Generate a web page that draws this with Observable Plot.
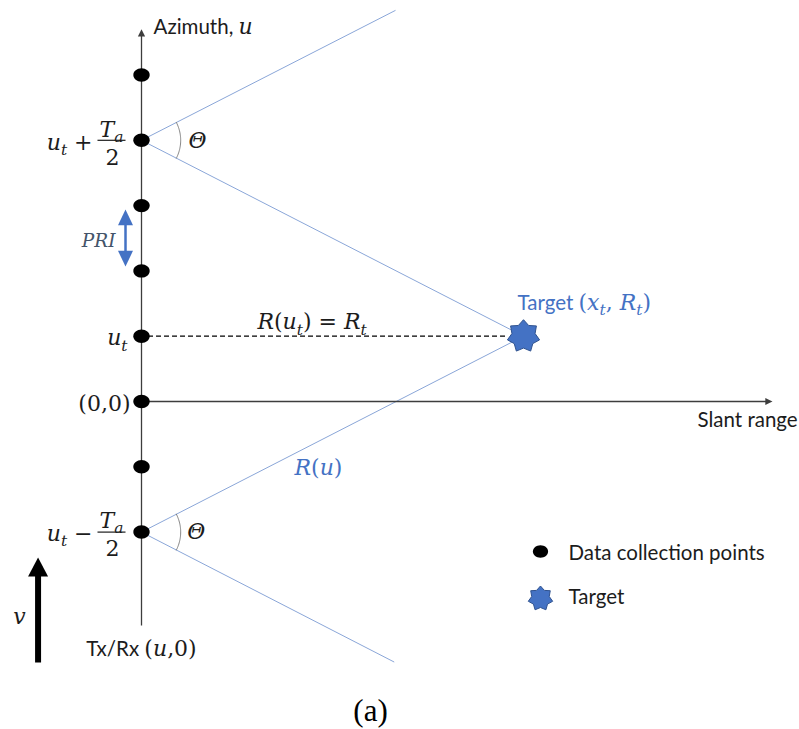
<!DOCTYPE html>
<html>
<head>
<meta charset="utf-8">
<script src="https://cdn.jsdelivr.net/npm/d3@7"></script>
<script src="https://cdn.jsdelivr.net/npm/@observablehq/plot@0.6"></script>
<style>
  html, body { margin: 0; padding: 0; background: #fff; }
  #fig svg text { white-space: pre; }
</style>
</head>
<body>
<div id="fig"></div>
<script>
// Geometry of a stripmap SAR collection, in units of one PRI along azimuth
// (slant range uses the same unit so angles are drawn true).
const collectionPoints = [-2, -1, 0, 1, 2, 3, 4, 5];   // azimuth u of each pulse
const uT = 1;              // target azimuth u_t
const halfAperture = 3;    // T_a / 2
const xT = 5.85;           // target slant range
const apertureEnds = [uT + halfAperture, uT - halfAperture];

// beam edges leaving each end of the synthetic aperture
const beamEdges = [
  {x1: 0, u1: 4,  x2: 3.89, u2: 5.99},
  {x1: 0, u1: 4,  x2: xT,   u2: uT},
  {x1: 0, u1: -2, x2: xT,   u2: uT},
  {x1: 0, u1: -2, x2: 3.87, u2: -3.99}
];
const azimuthAxis = {x: 0, from: -3.43, to: 5.70};
const rangeAxis = {u: 0, from: 0, to: 9.663};
const rangeLine = {x1: 0.1, x2: 5.6, u: uT};
const fractionBars = [{x1: -0.674, x2: -0.245, u: 4}, {x1: -0.674, x2: -0.245, u: -2}];
const priArrow = {x: -0.245, top: 2.94, bottom: 2.067};
const velocityArrow = {x: -1.584, tail: -3.997, tip: -2.389};
const legendItems = [
  {key: "points", x: 6.11, u: -2.297, label: "Data collection points", lx: 6.539, lu: -2.328},
  {key: "target", x: 6.11, u: -3.017, label: "Target", lx: 6.539, lu: -2.997}
];
const arcRadius = 0.6;

// text labels, grouped by typeface and colour
const mathLabels = [
  {text: "$u_t +$", x: -0.75, u: 3.962, anchor: "end"},
  {text: "$T_a$", x: -0.46, u: 4.161, anchor: "middle"},
  {text: "$2$", x: -0.445, u: 3.732, anchor: "middle"},
  {text: "$u_t −$", x: -0.75, u: -2.026, anchor: "end"},
  {text: "$T_a$", x: -0.46, u: -1.827, anchor: "middle"},
  {text: "$2$", x: -0.445, u: -2.256, anchor: "middle"},
  {text: "$Θ$", x: 0.72, u: 3.99, anchor: "start"},
  {text: "$Θ$", x: 0.70, u: -2.0, anchor: "start"},
  {text: "$u_t$", x: -0.214, u: 0.966, anchor: "end"},
  {text: "$(0,0)$", x: -0.168, u: -0.03, anchor: "end"},
  {text: "$R(u_t) = R_t$", x: 2.612, u: 1.211, anchor: "middle"},
  {text: "$v$", x: -1.868, u: -3.292, anchor: "middle"}
];
const mathBlueLabels = [
  {text: "$R(u)$", x: 2.343, u: -1.011, anchor: "start"}
];
const priLabels = [
  {text: "$PRI$", x: -0.398, u: 2.461, anchor: "end"}
];
const sansLabels = [
  {text: "Azimuth, $u$", x: 0.184, u: 5.727, anchor: "start"},
  {text: "Slant range", x: 8.515, u: -0.291, anchor: "start"},
  {text: "Tx/Rx $(u,0)$", x: 0, u: -3.798, anchor: "middle"}
];
const sansBlueLabels = [
  {text: "Target $(x_t, R_t)$", x: 5.758, u: 1.502, anchor: "start"}
];
const captionLabels = [{text: "(a)", x: 3.507, u: -4.737}];

const ink = "#1c1c1c";
const axisInk = "#3d3d3d";
const blue = "#4472c4";
const beamBlue = "#8aa6d8";
const slate = "#44546a";
const mathFont = "DejaVu Serif";
const sansFont = "Lato";
const mathSize = 22;
const sansSize = 20.5;

// custom symbols
const arrowHead = (dir, ratio) => ({
  draw(ctx, size) {
    const r = Math.sqrt(size / Math.PI), L = r * ratio;
    const rot = ([a, b]) => dir === "up" ? [a, b] : dir === "down" ? [a, -b] : [-b, a];
    const pts = [[0, 0], [-r, L], [r, L]].map(rot);
    ctx.moveTo(...pts[0]); ctx.lineTo(...pts[1]); ctx.lineTo(...pts[2]); ctx.closePath();
  }
});
const ellipse = {
  draw(ctx, size) {
    const rx = Math.sqrt(size / Math.PI), ry = rx * 0.82, k = 0.5523;
    ctx.moveTo(rx, 0);
    ctx.bezierCurveTo(rx, ry * k, rx * k, ry, 0, ry);
    ctx.bezierCurveTo(-rx * k, ry, -rx, ry * k, -rx, 0);
    ctx.bezierCurveTo(-rx, -ry * k, -rx * k, -ry, 0, -ry);
    ctx.bezierCurveTo(rx * k, -ry, rx, -ry * k, rx, 0);
    ctx.closePath();
  }
};
const star7 = {
  draw(ctx, size) {
    const R = Math.sqrt(size / Math.PI), r0 = R * 0.72;
    for (let i = 0; i < 14; i++) {
      const a = -Math.PI / 2 + i * Math.PI / 7, rr = i % 2 ? r0 : R;
      const p = [rr * Math.cos(a), rr * Math.sin(a)];
      i ? ctx.lineTo(...p) : ctx.moveTo(...p);
    }
    ctx.closePath();
  }
};

// angle arcs marking the beamwidth Θ at both aperture ends
const halfBeam = Math.atan2(halfAperture, xT);
const arcs = apertureEnds.flatMap((u0, k) =>
  d3.range(0, 41).map(i => {
    const a = -halfBeam + (2 * halfBeam * i) / 40;
    return {arc: k, x: arcRadius * Math.cos(a), u: u0 + arcRadius * Math.sin(a)};
  })
);

const byAnchor = (data, opts) => ["start", "middle", "end"].map(a =>
  Plot.text(data.filter(d => d.anchor === a), {x: "x", y: "u", text: "text", textAnchor: a, ...opts})
);

const plot = Plot.plot({
  width: 799,
  height: 729,
  margin: 0,
  style: {background: "#fff"},
  x: {domain: [-2.1593, 10.0766], axis: null},
  y: {domain: [-5.023, 6.1409], axis: null},
  marks: [
    Plot.link(beamEdges, {x1: "x1", y1: "u1", x2: "x2", y2: "u2", stroke: beamBlue, strokeWidth: 1}),
    Plot.link([rangeLine], {x1: "x1", x2: "x2", y1: "u", y2: "u", stroke: "#000", strokeWidth: 1.3, strokeDasharray: "5,3"}),
    Plot.link([azimuthAxis], {x1: "x", x2: "x", y1: "from", y2: d => d.to - 0.08, stroke: axisInk, strokeWidth: 1.3}),
    Plot.dot([azimuthAxis], {x: "x", y: "to", symbol: arrowHead("up", 2), r: 3.6, fill: axisInk, stroke: "none"}),
    Plot.link([rangeAxis], {x1: "from", x2: d => d.to - 0.08, y1: "u", y2: "u", stroke: axisInk, strokeWidth: 1.3}),
    Plot.dot([rangeAxis], {x: "to", y: "u", symbol: arrowHead("right", 2), r: 3.6, fill: axisInk, stroke: "none"}),
    Plot.line(arcs, {x: "x", y: "u", z: "arc", stroke: "#808080", strokeWidth: 1}),
    Plot.link(fractionBars, {x1: "x1", x2: "x2", y1: "u", y2: "u", stroke: ink, strokeWidth: 1.2}),
    // PRI spacing arrow
    Plot.link([priArrow], {x1: "x", x2: "x", y1: d => d.top - 0.15, y2: d => d.bottom + 0.15, stroke: blue, strokeWidth: 2.5}),
    Plot.dot([priArrow], {x: "x", y: "top", symbol: arrowHead("up", 2.1), r: 7.5, fill: blue, stroke: "none"}),
    Plot.dot([priArrow], {x: "x", y: "bottom", symbol: arrowHead("down", 2.1), r: 7.5, fill: blue, stroke: "none"}),
    // platform velocity
    Plot.link([velocityArrow], {x1: "x", x2: "x", y1: "tail", y2: d => d.tip - 0.25, stroke: "#000", strokeWidth: 6}),
    Plot.dot([velocityArrow], {x: "x", y: "tip", symbol: arrowHead("up", 1.9), r: 10, fill: "#000", stroke: "none"}),
    // pulses and target
    Plot.dot(collectionPoints, {x: 0, y: d => d, symbol: ellipse, r: 8.2, fill: "#000", stroke: "none"}),
    Plot.dot([{x: xT, u: uT}], {x: "x", y: "u", symbol: star7, r: 16.5, fill: blue, stroke: "#2f528f", strokeWidth: 1}),
    // legend
    Plot.dot(legendItems.filter(d => d.key === "points"), {x: "x", y: "u", symbol: ellipse, r: 7.6, fill: "#000", stroke: "none"}),
    Plot.dot(legendItems.filter(d => d.key === "target"), {x: "x", y: "u", symbol: star7, r: 12.5, fill: blue, stroke: "#2f528f", strokeWidth: 1}),
    Plot.text(legendItems, {x: "lx", y: "lu", text: "label", textAnchor: "start", fontFamily: sansFont, fontSize: sansSize, fill: ink}),
    // labels
    ...byAnchor(mathLabels, {fontFamily: mathFont, fontSize: mathSize, fill: ink}),
    ...byAnchor(mathBlueLabels, {fontFamily: mathFont, fontSize: mathSize, fill: blue}),
    ...byAnchor(priLabels, {fontFamily: mathFont, fontSize: 18.5, fill: slate}),
    ...byAnchor(sansLabels, {fontFamily: sansFont, fontSize: sansSize, fill: ink}),
    ...byAnchor(sansBlueLabels, {fontFamily: sansFont, fontSize: sansSize, fill: blue}),
    Plot.text(captionLabels, {x: "x", y: "u", text: "text", textAnchor: "middle", fontFamily: "Liberation Serif", fontSize: 31, fill: "#000"})
  ]
});

document.getElementById("fig").appendChild(plot);

// Typeset $...$ spans: letters italic in the math face, "_c" as a subscript.
function typeset(root) {
  const NS = "http://www.w3.org/2000/svg";
  root.querySelectorAll("text").forEach(t => {
    const src = t.textContent;
    if (!src.includes("$")) return;
    const F = parseFloat(getComputedStyle(t).fontSize);
    const M = t.closest("g") && t.closest("g").getAttribute("font-family") === mathFont ? F : mathSize;
    const runs = [];
    src.split("$").forEach((p, i) => {
      if (i % 2 === 0) { if (p) runs.push({s: p, kind: "plain"}); return; }
      for (let j = 0; j < p.length; j++) {
        const c = p[j];
        if (c === "_") { runs.push({s: p[++j], kind: "sub"}); continue; }
        runs.push({s: c, kind: /\p{L}/u.test(c) ? "var" : "op"});
      }
    });
    const merged = [];
    for (const r of runs) {
      const last = merged[merged.length - 1];
      if (last && last.kind === r.kind) last.s += r.s; else merged.push({...r});
    }
    t.textContent = "";
    let shift = 0;
    for (const r of merged) {
      const ts = document.createElementNS(NS, "tspan");
      if (r.kind !== "plain") { ts.setAttribute("font-family", mathFont); ts.setAttribute("font-size", M); }
      if (r.kind === "var" || r.kind === "sub") ts.setAttribute("font-style", "italic");
      if (r.kind === "op") ts.setAttribute("font-style", "normal");
      if (r.kind === "sub") ts.setAttribute("font-size", (0.7 * M).toFixed(1));
      const target = r.kind === "sub" ? 0.25 * M : 0;
      if (target !== shift) { ts.setAttribute("dy", (target - shift).toFixed(2)); shift = target; }
      ts.textContent = r.s;
      t.appendChild(ts);
    }
  });
}
typeset(plot);
</script>
</body>
</html>
